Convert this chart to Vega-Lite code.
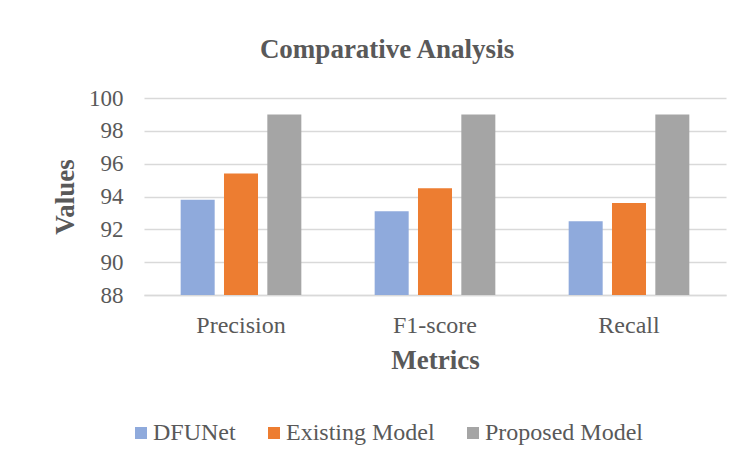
{
  "$schema": "https://vega.github.io/schema/vega-lite/v6.json",
  "width": 582,
  "height": 197,
  "autosize": {"type": "none"},
  "padding": {"left": 144, "top": 98, "right": 16, "bottom": 164},
  "background": "white",
  "title": {
    "text": "Comparative Analysis",
    "font": "Liberation Serif",
    "fontSize": 27,
    "fontWeight": "bold",
    "color": "#595959",
    "anchor": "middle",
    "frame": "group",
    "dx": -48,
    "dy": 38,
    "baseline": "alphabetic",
    "offset": 40
  },
  "data": {
    "values": [
      {"metric": "Precision", "model": "DFUNet", "value": 93.8},
      {"metric": "Precision", "model": "Existing Model", "value": 95.4},
      {"metric": "Precision", "model": "Proposed Model", "value": 99.0},
      {"metric": "F1-score", "model": "DFUNet", "value": 93.1},
      {"metric": "F1-score", "model": "Existing Model", "value": 94.5},
      {"metric": "F1-score", "model": "Proposed Model", "value": 99.0},
      {"metric": "Recall", "model": "DFUNet", "value": 92.5},
      {"metric": "Recall", "model": "Existing Model", "value": 93.6},
      {"metric": "Recall", "model": "Proposed Model", "value": 99.0}
    ]
  },
  "mark": {"type": "bar", "clip": true},
  "encoding": {
    "x": {
      "field": "metric",
      "type": "nominal",
      "sort": ["Precision", "F1-score", "Recall"],
      "scale": {"paddingInner": 0.33, "paddingOuter": 0.165},
      "axis": {
        "title": "Metrics",
        "labelAngle": 0,
        "labelFont": "Liberation Serif",
        "labelFontSize": 24,
        "labelColor": "#595959",
        "labelPadding": 18,
        "labelBaseline": "top",
        "ticks": false,
        "domain": true,
        "domainColor": "#D9D9D9",
        "domainWidth": 1.5,
        "titleFont": "Liberation Serif",
        "titleFontSize": 27,
        "titleFontWeight": "bold",
        "titleColor": "#595959",
        "titleBaseline": "alphabetic",
        "titleY": 73.3
      }
    },
    "xOffset": {
      "field": "model",
      "type": "nominal",
      "scale": {"paddingInner": 0.215, "paddingOuter": 0.1075}
    },
    "y": {
      "field": "value",
      "type": "quantitative",
      "scale": {"domain": [88, 100], "nice": false, "zero": false},
      "axis": {
        "title": "Values",
        "values": [88, 90, 92, 94, 96, 98, 100],
        "labelFont": "Liberation Serif",
        "labelFontSize": 23,
        "labelColor": "#595959",
        "labelPadding": 21,
        "ticks": false,
        "domain": false,
        "grid": true,
        "gridColor": "#D9D9D9",
        "gridWidth": 1.5,
        "titleFont": "Liberation Serif",
        "titleFontSize": 27,
        "titleFontWeight": "bold",
        "titleColor": "#595959",
        "titleAngle": -90,
        "titleBaseline": "alphabetic",
        "titleAlign": "center",
        "titleX": -71,
        "titleY": 98.5
      }
    },
    "color": {
      "field": "model",
      "type": "nominal",
      "scale": {
        "domain": ["DFUNet", "Existing Model", "Proposed Model"],
        "range": ["#8FAADC", "#ED7D31", "#A5A5A5"]
      },
      "legend": {
        "title": null,
        "orient": "none",
        "direction": "horizontal",
        "legendX": -15,
        "legendY": 323,
        "symbolType": "square",
        "symbolSize": 144,
        "symbolStrokeWidth": 0,
        "symbolOpacity": 1,
        "labelFont": "Liberation Serif",
        "labelFontSize": 24,
        "labelColor": "#595959",
        "labelOffset": 0,
        "columnPadding": 26,
        "labelLimit": 300
      }
    }
  },
  "config": {
    "view": {"stroke": null},
    "axis": {"gridCap": "butt"}
  }
}
